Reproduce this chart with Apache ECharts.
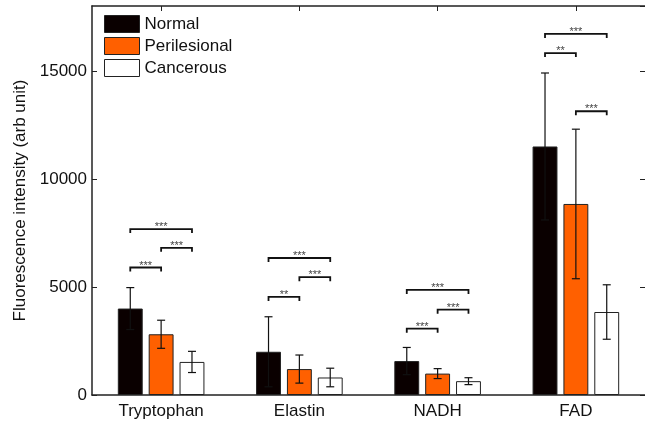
<!DOCTYPE html>
<html>
<head>
<meta charset="utf-8">
<script src="https://cdn.jsdelivr.net/npm/echarts@6/dist/echarts.min.js"></script>
<style>
html, body { margin: 0; padding: 0; background: #fff; }
#chart { width: 645px; height: 424px; }
</style>
</head>
<body>
<div id="chart"></div>
<script>
var categories = ['Tryptophan', 'Elastin', 'NADH', 'FAD'];
var groupNames = ['Normal', 'Perilesional', 'Cancerous'];

var normalMean = [4000, 2000, 1570, 11500];
var normalErr = [970, 1620, 630, 3400];
var periMean = [2810, 1200, 990, 8840];
var periErr = [650, 650, 230, 3460];
var cancMean = [1530, 810, 640, 3840];
var cancErr = [490, 430, 160, 1260];

// significance brackets: [category, fromBar, toBar, height]
var brackets = [
    [0, 0, 2, 7680], [0, 1, 2, 6810], [0, 0, 1, 5900],
    [1, 0, 2, 6340], [1, 1, 2, 5450], [1, 0, 1, 4540],
    [2, 0, 2, 4860], [2, 1, 2, 3950], [2, 0, 1, 3070],
    [3, 0, 2, 16710], [3, 0, 1, 15820], [3, 1, 2, 13130]
];
var bracketLabels = [
    '***', '***', '***',
    '***', '***', '**',
    '***', '***', '***',
    '***', '**', '***'
];

var yTicks = [0, 5000, 10000, 15000];

var colors = ['#0a0000', '#ff6000', '#ffffff'];
var BAR_W = 0.18, BAR_GAP = 0.24;

var chart = echarts.init(document.getElementById('chart'));

function barOffset(api, idx) {
    var band = api.size([1, 0])[0];
    return (idx - 1) * band * BAR_W * (1 + BAR_GAP);
}

function errorSeries(name, idx, means, errs) {
    var data = means.map(function (m, i) { return [i, m, errs[i]]; });
    return {
        type: 'custom',
        name: name + ' err',
        z: 5,
        silent: true,
        encode: {x: 0, y: 1},
        data: data,
        renderItem: function (params, api) {
            var cat = api.value(0), mean = api.value(1), err = api.value(2);
            var off = barOffset(api, idx);
            var hi = api.coord([cat, mean + err]);
            var lo = api.coord([cat, mean - err]);
            var x = hi[0] + off;
            var st = {stroke: '#111', lineWidth: 1.2};
            return {
                type: 'group',
                children: [
                    {type: 'line', shape: {x1: x, y1: hi[1], x2: x, y2: lo[1]}, style: st},
                    {type: 'line', shape: {x1: x - 4, y1: hi[1], x2: x + 4, y2: hi[1]}, style: st},
                    {type: 'line', shape: {x1: x - 4, y1: lo[1], x2: x + 4, y2: lo[1]}, style: st}
                ]
            };
        }
    };
}

function barSeries(name, idx, means) {
    return {
        type: 'bar',
        name: name,
        data: means,
        barWidth: (BAR_W * 100) + '%',
        barGap: (BAR_GAP * 100) + '%',
        itemStyle: {color: colors[idx], borderColor: '#222', borderWidth: 1}
    };
}

var option = {
    animation: false,
    backgroundColor: '#fff',
    textStyle: {fontFamily: 'Liberation Sans, Arial, sans-serif'},
    grid: {left: 92, right: -2, top: 6, bottom: 29},
    legend: {
        orient: 'vertical',
        left: 104,
        top: 15,
        padding: 0,
        itemGap: 4,
        itemWidth: 35,
        itemHeight: 17,
        icon: 'rect',
        textStyle: {fontSize: 17, color: '#111', lineHeight: 17},
        data: groupNames.map(function (n, i) {
            return {name: n, itemStyle: {color: colors[i], borderColor: '#222', borderWidth: 1}};
        })
    },
    xAxis: [
        {
            type: 'category',
            data: categories,
            position: 'bottom',
            axisLine: {onZero: false, lineStyle: {color: '#222', width: 1.5}},
            axisTick: {show: true, inside: true, alignWithLabel: true, length: 5, lineStyle: {color: '#222'}},
            axisLabel: {fontSize: 17, color: '#111', margin: 8}
        },
        {
            type: 'category',
            data: categories,
            position: 'top',
            axisLine: {onZero: false, lineStyle: {color: '#222', width: 1.5}},
            axisTick: {show: true, inside: true, alignWithLabel: true, length: 5, lineStyle: {color: '#222'}},
            axisLabel: {show: false}
        }
    ],
    yAxis: [
        {
            type: 'value',
            min: 0,
            max: 18000,
            interval: 5000,
            position: 'left',
            name: 'Fluorescence intensity (arb unit)',
            nameLocation: 'middle',
            nameGap: 62,
            nameTextStyle: {fontSize: 17, color: '#111'},
            splitLine: {show: false},
            axisLine: {show: true, lineStyle: {color: '#222', width: 1.5}},
            axisTick: {show: true, inside: true, length: 5, lineStyle: {color: '#222'}},
            axisLabel: {
                fontSize: 17, color: '#111', margin: 5, showMaxLabel: false,
                formatter: function (v) { return yTicks.indexOf(v) >= 0 ? String(v) : ''; }
            }
        },
        {
            type: 'value',
            min: 0,
            max: 18000,
            interval: 5000,
            position: 'right',
            splitLine: {show: false},
            axisLine: {show: false},
            axisTick: {show: true, inside: true, length: 5, lineStyle: {color: '#222'}},
            axisLabel: {show: false}
        }
    ],
    series: [
        barSeries(groupNames[0], 0, normalMean),
        barSeries(groupNames[1], 1, periMean),
        barSeries(groupNames[2], 2, cancMean),
        errorSeries(groupNames[0], 0, normalMean, normalErr),
        errorSeries(groupNames[1], 1, periMean, periErr),
        errorSeries(groupNames[2], 2, cancMean, cancErr),
        {
            type: 'custom',
            name: 'significance',
            z: 6,
            silent: true,
            encode: {x: 0, y: 3},
            data: brackets,
            renderItem: function (params, api) {
                var cat = api.value(0), from = api.value(1), to = api.value(2), h = api.value(3);
                var p = api.coord([cat, h]);
                var x1 = p[0] + barOffset(api, from);
                var x2 = p[0] + barOffset(api, to);
                var y = p[1];
                return {
                    type: 'group',
                    children: [
                        {
                            type: 'polyline',
                            shape: {points: [[x1, y + 4], [x1, y], [x2, y], [x2, y + 4]]},
                            style: {stroke: '#111', lineWidth: 1.8, fill: null}
                        },
                        {
                            type: 'text',
                            style: {
                                x: (x1 + x2) / 2,
                                y: y - 2,
                                text: bracketLabels[params.dataIndex],
                                fontSize: 11,
                                fill: '#444',
                                align: 'center',
                                verticalAlign: 'middle'
                            }
                        }
                    ]
                };
            }
        }
    ]
};

chart.setOption(option);
window.addEventListener('resize', function () {
    chart.resize();
});
</script>
</body>
</html>
